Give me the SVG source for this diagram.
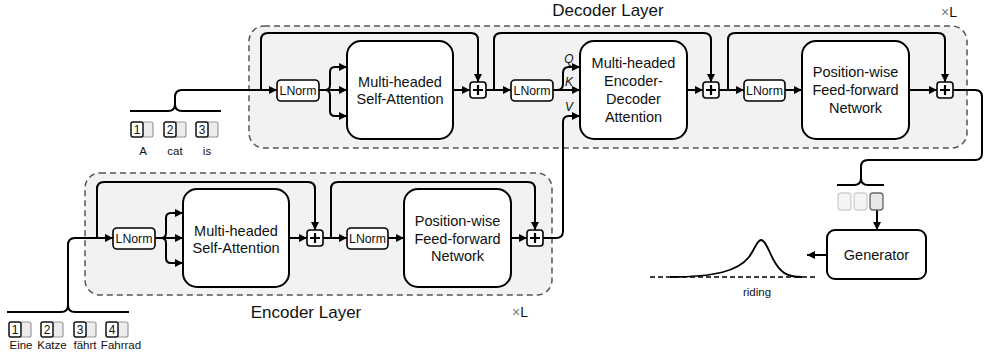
<svg xmlns="http://www.w3.org/2000/svg" width="988" height="363" viewBox="0 0 988 363">
  <defs>
    <marker id="arrow" markerUnits="userSpaceOnUse" markerWidth="9" markerHeight="9" refX="8" refY="4.5" orient="auto">
      <path d="M0,0.5 L8,4.5 L0,8.5 z" fill="#000"/>
    </marker>
    <style>
      .layer { fill: #f2f2f2; stroke: #555; stroke-width: 1.5; stroke-dasharray: 6 4; }
      .block { fill: #fff; stroke: #000; stroke-width: 2; }
      .ln { fill: #fff; stroke: #000; stroke-width: 1.6; }
      .plus { fill: #fff; stroke: #000; stroke-width: 1.6; }
      .wire { fill: none; stroke: #000; stroke-width: 2; }
      .arr { marker-end: url(#arrow); }
      .t { font-family: "Liberation Sans", Arial, sans-serif; fill: #111; text-anchor: middle; }
      .big { font-size: 14.5px; }
      .lnt { font-size: 12.3px; }
      .title { font-size: 17px; }
      .lbl { font-size: 11.5px; }
      .num { font-size: 12px; }
      .qkv { font-size: 12px; font-style: italic; }
      .tokn { fill: #fff; stroke: #111; stroke-width: 1.5; }
      .tokg { fill: #ececec; stroke: #999; stroke-width: 1.2; }
      .tokl { fill: #f4f4f4; stroke: #cfcfcf; stroke-width: 1.3; }
      .tokd { fill: #e8e8e8; stroke: #666; stroke-width: 1.3; }
    </style>
  </defs>

  <!-- Layer frames -->
  <g id="decoder-layer">
    <rect class="layer" x="249" y="26" width="718" height="122" rx="15"/>
    <text class="t title" x="608" y="16">Decoder Layer</text>
    <text class="t" x="949" y="17" font-size="14"><tspan fill="#777">×</tspan>L</text>
  </g>
  <g id="encoder-layer">
    <rect class="layer" x="85" y="173" width="467" height="122" rx="15"/>
    <text class="t title" x="306" y="318">Encoder Layer</text>
    <text class="t" x="520" y="317" font-size="14"><tspan fill="#777">×</tspan>L</text>
  </g>

  <!-- Connectors -->
  <g id="connectors" class="wire">
    <!-- decoder input brace -->
    <path d="M130,111 H168 Q175,111 175,104 V97 Q175,90 182,90 H277" class="arr"/>
    <path d="M221,111 H182 Q175,111 175,104"/>
    <!-- decoder residual skips -->
    <path d="M261,90 V40 Q261,33 268,33 H471 Q478,33 478,40 V82" class="arr"/>
    <path d="M494,90 V40 Q494,33 501,33 H704 Q711,33 711,40 V82" class="arr"/>
    <path d="M728,90 V40 Q728,33 735,33 H938 Q945,33 945,40 V82" class="arr"/>
    <!-- decoder self-attention fork -->
    <path d="M319,90 H347" class="arr"/>
    <path d="M325,90 Q330,90 330,85 V72 Q330,67 335,67 H347" class="arr"/>
    <path d="M325,90 Q330,90 330,95 V111 Q330,116 335,116 H347" class="arr"/>
    <path d="M453,90 H470" class="arr"/>
    <path d="M486,90 H511" class="arr"/>
    <!-- Q / K / V -->
    <path d="M553,90 H580" class="arr"/>
    <path d="M557,90 Q563,90 563,84 V73 Q563,67 569,67 H580" class="arr"/>
    <path d="M543,238 H556 Q563,238 563,231 V122 Q563,116 569,116 H580" class="arr"/>
    <path d="M687,90 H703" class="arr"/>
    <path d="M719,90 H744" class="arr"/>
    <path d="M785,90 H802" class="arr"/>
    <path d="M909,90 H937" class="arr"/>
    <!-- decoder output to generator -->
    <path d="M953,90 H975 Q982,90 982,97 V153 Q982,160 975,160 H868 Q861,160 861,167 V178 Q861,185 854,185 H837"/>
    <path d="M884,185 H868 Q861,185 861,178"/>
    <path d="M877,210 V230" class="arr"/>
    <path d="M827,255 H807" class="arr"/>

    <!-- encoder input brace -->
    <path d="M7,312 H61 Q68,312 68,305 V245 Q68,238 75,238 H113" class="arr"/>
    <path d="M129,312 H75 Q68,312 68,305"/>
    <!-- encoder residual skips -->
    <path d="M97,238 V189 Q97,182 104,182 H308 Q315,182 315,189 V230" class="arr"/>
    <path d="M331,238 V189 Q331,182 338,182 H528 Q535,182 535,189 V230" class="arr"/>
    <!-- encoder self-attention fork -->
    <path d="M155,238 H183" class="arr"/>
    <path d="M161,238 Q166,238 166,233 V218 Q166,213 171,213 H183" class="arr"/>
    <path d="M161,238 Q166,238 166,243 V258 Q166,263 171,263 H183" class="arr"/>
    <path d="M289,238 H307" class="arr"/>
    <path d="M323,238 H347" class="arr"/>
    <path d="M388,238 H404" class="arr"/>
    <path d="M511,238 H527" class="arr"/>
  </g>

  <!-- Decoder blocks -->
  <g id="dec-lnorm1">
    <rect class="ln" x="277" y="80" width="42" height="21" rx="4"/>
    <text class="t lnt" x="298" y="94.5">LNorm</text>
  </g>
  <g id="dec-self-attn">
    <rect class="block" x="347" y="41" width="106" height="98" rx="14"/>
    <text class="t big" x="400" y="87">Multi-headed</text>
    <text class="t big" x="400" y="104">Self-Attention</text>
  </g>
  <g id="dec-add1">
    <rect class="plus" x="470" y="82" width="16" height="16" rx="3"/>
    <path d="M478,85 V95 M473,90 H483" stroke="#000" stroke-width="2.2"/>
  </g>
  <g id="dec-lnorm2">
    <rect class="ln" x="511" y="80" width="42" height="21" rx="4"/>
    <text class="t lnt" x="532" y="94.5">LNorm</text>
  </g>
  <g id="dec-qkv-labels">
    <text class="t qkv" x="569" y="63">Q</text>
    <text class="t qkv" x="569" y="86">K</text>
    <text class="t qkv" x="569" y="111">V</text>
  </g>
  <g id="dec-cross-attn">
    <rect class="block" x="580" y="41" width="107" height="98" rx="14"/>
    <text class="t big" x="633.5" y="68">Multi-headed</text>
    <text class="t big" x="633.5" y="86">Encoder-</text>
    <text class="t big" x="633.5" y="104">Decoder</text>
    <text class="t big" x="633.5" y="122">Attention</text>
  </g>
  <g id="dec-add2">
    <rect class="plus" x="703" y="82" width="16" height="16" rx="3"/>
    <path d="M711,85 V95 M706,90 H716" stroke="#000" stroke-width="2.2"/>
  </g>
  <g id="dec-lnorm3">
    <rect class="ln" x="744" y="80" width="41" height="21" rx="4"/>
    <text class="t lnt" x="764.5" y="94.5">LNorm</text>
  </g>
  <g id="dec-ffn">
    <rect class="block" x="802" y="41" width="107" height="98" rx="14"/>
    <text class="t big" x="855.5" y="77">Position-wise</text>
    <text class="t big" x="855.5" y="95">Feed-forward</text>
    <text class="t big" x="855.5" y="113">Network</text>
  </g>
  <g id="dec-add3">
    <rect class="plus" x="937" y="82" width="16" height="16" rx="3"/>
    <path d="M945,85 V95 M940,90 H950" stroke="#000" stroke-width="2.2"/>
  </g>

  <!-- Decoder input tokens -->
  <g id="dec-tokens">
    <rect class="tokg" x="142" y="122" width="11" height="15" rx="2"/>
    <rect class="tokn" x="131" y="122" width="12" height="15" rx="2"/>
    <text class="t num" x="137" y="134">1</text>
    <rect class="tokg" x="175" y="122" width="11" height="15" rx="2"/>
    <rect class="tokn" x="164" y="122" width="12" height="15" rx="2"/>
    <text class="t num" x="170" y="134">2</text>
    <rect class="tokg" x="207" y="122" width="11" height="15" rx="2"/>
    <rect class="tokn" x="196" y="122" width="12" height="15" rx="2"/>
    <text class="t num" x="202" y="134">3</text>
    <text class="t lbl" x="143" y="155">A</text>
    <text class="t lbl" x="175" y="155">cat</text>
    <text class="t lbl" x="207" y="155">is</text>
  </g>

  <!-- Output tokens and generator -->
  <g id="out-tokens">
    <rect class="tokl" x="838" y="193" width="13" height="17" rx="3"/>
    <rect class="tokl" x="854" y="193" width="13" height="17" rx="3"/>
    <rect class="tokd" x="870" y="193" width="13" height="17" rx="3"/>
  </g>
  <g id="generator">
    <rect class="block" x="827" y="230" width="99" height="49" rx="8"/>
    <text class="t big" x="876.5" y="260">Generator</text>
  </g>
  <g id="distribution">
    <path d="M650,277 H817" fill="none" stroke="#000" stroke-width="1.6" stroke-dasharray="5 3"/>
    <path d="M670,277 C715,277 738,271 749,257 C755,249 757,240 761,240 C765,240 768,249 773,259 C780,272 786,277 802,277" fill="none" stroke="#000" stroke-width="1.8"/>
    <text class="t lbl" x="757" y="296">riding</text>
  </g>

  <!-- Encoder blocks -->
  <g id="enc-lnorm1">
    <rect class="ln" x="113" y="228" width="42" height="21" rx="4"/>
    <text class="t lnt" x="134" y="242.5">LNorm</text>
  </g>
  <g id="enc-self-attn">
    <rect class="block" x="183" y="189" width="106" height="98" rx="14"/>
    <text class="t big" x="236" y="236">Multi-headed</text>
    <text class="t big" x="236" y="253">Self-Attention</text>
  </g>
  <g id="enc-add1">
    <rect class="plus" x="307" y="230" width="16" height="16" rx="3"/>
    <path d="M315,233 V243 M310,238 H320" stroke="#000" stroke-width="2.2"/>
  </g>
  <g id="enc-lnorm2">
    <rect class="ln" x="347" y="228" width="41" height="21" rx="4"/>
    <text class="t lnt" x="367.5" y="242.5">LNorm</text>
  </g>
  <g id="enc-ffn">
    <rect class="block" x="404" y="189" width="107" height="98" rx="14"/>
    <text class="t big" x="457.5" y="226">Position-wise</text>
    <text class="t big" x="457.5" y="244">Feed-forward</text>
    <text class="t big" x="457.5" y="261">Network</text>
  </g>
  <g id="enc-add2">
    <rect class="plus" x="527" y="230" width="16" height="16" rx="3"/>
    <path d="M535,233 V243 M530,238 H540" stroke="#000" stroke-width="2.2"/>
  </g>

  <!-- Encoder input tokens -->
  <g id="enc-tokens">
    <rect class="tokg" x="20" y="322" width="11" height="15" rx="2"/>
    <rect class="tokn" x="9" y="322" width="12" height="15" rx="2"/>
    <text class="t num" x="15" y="334">1</text>
    <rect class="tokg" x="52" y="322" width="11" height="15" rx="2"/>
    <rect class="tokn" x="41" y="322" width="12" height="15" rx="2"/>
    <text class="t num" x="47" y="334">2</text>
    <rect class="tokg" x="85" y="322" width="11" height="15" rx="2"/>
    <rect class="tokn" x="74" y="322" width="12" height="15" rx="2"/>
    <text class="t num" x="80" y="334">3</text>
    <rect class="tokg" x="117" y="322" width="11" height="15" rx="2"/>
    <rect class="tokn" x="106" y="322" width="12" height="15" rx="2"/>
    <text class="t num" x="112" y="334">4</text>
    <text class="t lbl" x="21" y="349">Eine</text>
    <text class="t lbl" x="52" y="349">Katze</text>
    <text class="t lbl" x="85" y="349">fährt</text>
    <text class="t lbl" x="121" y="349">Fahrrad</text>
  </g>
</svg>
